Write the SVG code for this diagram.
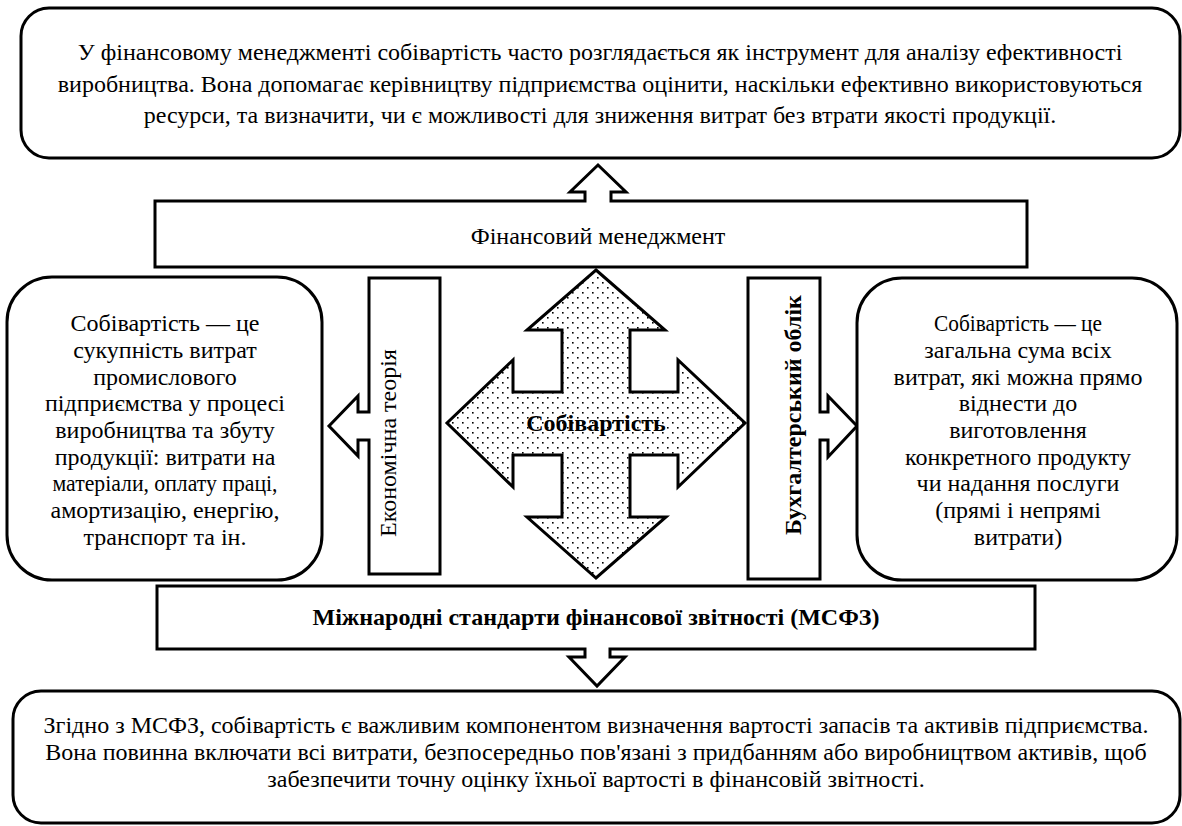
<svg xmlns="http://www.w3.org/2000/svg" width="1182" height="826" viewBox="0 0 1182 826" font-family="'Liberation Serif', 'Times New Roman', serif">
<defs>
<pattern id="dots" x="0" y="0" width="10" height="10" patternUnits="userSpaceOnUse">
<rect x="2" y="2" width="1.6" height="1.6" fill="#000"/>
<rect x="7" y="7" width="1.6" height="1.6" fill="#000"/>
</pattern>
</defs>
<style>
.box{fill:#fff;stroke:#000;stroke-width:3;stroke-linejoin:miter}
.t{font-family:'Liberation Serif',serif;font-size:24px;fill:#000;text-anchor:middle}
.b{font-weight:bold}
</style>
<rect x="0" y="0" width="1182" height="826" fill="#fff"/>

<g id="top-note">
<rect class="box" x="21" y="8" width="1159" height="150" rx="28" ry="28"/>
<text class="t" x="600" y="60">У фінансовому менеджменті собівартість часто розглядається як інструмент для аналізу ефективності</text>
<text class="t" x="600" y="92">виробництва. Вона допомагає керівництву підприємства оцінити, наскільки ефективно використовуються</text>
<text class="t" x="600" y="123">ресурси, та визначити, чи є можливості для зниження витрат без втрати якості продукції.</text>
</g>

<g id="connectors">
<g id="fin-mgmt">
<polygon class="box" points="155,201 585,201 585,192 570,192 598,165 626,192 611,192 611,201 1027,201 1027,267 155,267"/>
<text class="t" x="598" y="244">Фінансовий менеджмент</text>
</g>
<g id="econ-theory">
<polygon class="box" points="369,278 440,278 440,574 369,574 369,440 358,440 358,456 329,426 358,396 358,412 369,412"/>
<text class="t" transform="translate(396,443) rotate(-90)" x="0" y="0">Економічна теорія</text>
</g>
<g id="accounting">
<polygon class="box" points="748,278 820,278 820,412 828,412 828,396 857,426 828,457 828,440 820,440 820,579 748,579"/>
<text class="t b" transform="translate(801,415) rotate(-90)" x="0" y="0">Бухгалтерський облік</text>
</g>
<g id="ifrs">
<polygon class="box" points="157,586 1035,586 1035,649 610,649 610,657 625,657 597,686 569,657 585,657 585,649 157,649"/>
<text class="t b" x="596" y="625">Міжнародні стандарти фінансової звітності (МСФЗ)</text>
</g>
</g>

<g id="cost-center">
<polygon points="596,270 665,330 630,330 630,392 678,392 678,360 745,423 678,487 678,455 630,455 630,517 666,517 596,578 527,517 562,517 562,455 513,455 513,487 447,423 513,360 513,392 562,392 562,330 527,330" fill="#fff" stroke="none"/>
<polygon points="596,270 665,330 630,330 630,392 678,392 678,360 745,423 678,487 678,455 630,455 630,517 666,517 596,578 527,517 562,517 562,455 513,455 513,487 447,423 513,360 513,392 562,392 562,330 527,330" fill="url(#dots)" stroke="#000" stroke-width="3"/>
<text class="t b" x="596" y="431">Собівартість</text>
</g>

<g id="left-note">
<rect class="box" x="7" y="277" width="315" height="303" rx="45" ry="45"/>
<text class="t" x="165" y="331">Собівартість — це</text>
<text class="t" x="165" y="358">сукупність витрат</text>
<text class="t" x="165" y="385">промислового</text>
<text class="t" x="165" y="411">підприємства у процесі</text>
<text class="t" x="165" y="438">виробництва та збуту</text>
<text class="t" x="165" y="465">продукції: витрати на</text>
<text class="t" x="165" y="491" textLength="225" lengthAdjust="spacingAndGlyphs">матеріали, оплату праці,</text>
<text class="t" x="165" y="518">амортизацію, енергію,</text>
<text class="t" x="165" y="545">транспорт та ін.</text>
</g>

<g id="right-note">
<rect class="box" x="857" y="278" width="320" height="302" rx="45" ry="45"/>
<text class="t" x="1018" y="331" textLength="168" lengthAdjust="spacingAndGlyphs">Собівартість — це</text>
<text class="t" x="1018" y="358">загальна сума всіх</text>
<text class="t" x="1018" y="385">витрат, які можна прямо</text>
<text class="t" x="1018" y="411">віднести до</text>
<text class="t" x="1018" y="438">виготовлення</text>
<text class="t" x="1018" y="465">конкретного продукту</text>
<text class="t" x="1018" y="491">чи надання послуги</text>
<text class="t" x="1018" y="518">(прямі і непрямі</text>
<text class="t" x="1018" y="545">витрати)</text>
</g>

<g id="bottom-note">
<rect class="box" x="13" y="691" width="1167" height="132" rx="28" ry="28"/>
<text class="t" x="596" y="733">Згідно з МСФЗ, собівартість є важливим компонентом визначення вартості запасів та активів підприємства.</text>
<text class="t" x="596" y="760">Вона повинна включати всі витрати, безпосередньо пов'язані з придбанням або виробництвом активів, щоб</text>
<text class="t" x="596" y="787">забезпечити точну оцінку їхньої вартості в фінансовій звітності.</text>
</g>
</svg>
